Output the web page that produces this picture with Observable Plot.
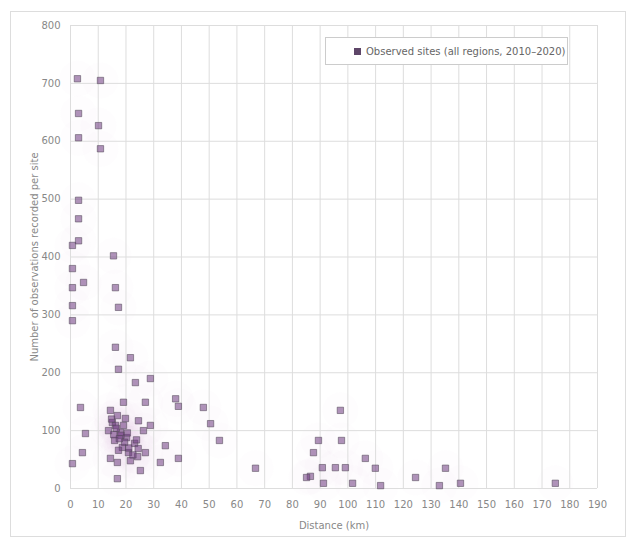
<!DOCTYPE html>
<html>
<head>
<meta charset="utf-8">
<script src="https://cdn.jsdelivr.net/npm/d3@7"></script>
<script src="https://cdn.jsdelivr.net/npm/@observablehq/plot@0.6"></script>
<style>
  html, body { margin: 0; padding: 0; background: #fff; }
  #wrap { position: relative; width: 628px; height: 539px; font-family: "DejaVu Sans", sans-serif; }
  #frame { position: absolute; left: 10px; top: 11px; width: 614px; height: 524px; border: 1px solid #ddd; pointer-events: none; }
  #legend { position: absolute; left: 325px; top: 37px; width: 241px; height: 26px; border: 1px solid #ccc; background: #fff;
            display: flex; align-items: center; font-size: 10px; color: #666; white-space: nowrap; }
  #legend .sw { width: 7px; height: 7px; background: #5e4668; margin: 0 5px 0 28px; flex: none; }
</style>
</head>
<body>
<div id="wrap"></div>
<script>
// Data (x, y pairs)
const xValues = [2.5, 10.8, 2.9, 10.1, 2.9, 10.8, 2.9, 2.9, 2.9, 0.7, 0.7, 0.7, 4.7, 0.7, 0.7,
  15.5, 16.2, 17.3, 16.2, 21.6, 17.3, 23.4, 28.8, 19.1, 27.0, 37.9, 38.9, 47.9, 50.5,
  3.6, 5.4, 4.3, 0.7,
  14.4, 16.9, 15.1, 19.1, 13.7, 18.0, 20.2, 15.9, 23.1, 18.7, 24.4, 20.9, 27.0, 24.2, 21.6, 25.2,
  16.9, 16.9, 14.4, 24.5, 28.8, 26.3, 34.2, 32.4, 38.9, 53.7, 16.2, 19.8, 17.3,
  14.8, 16.5, 18.2, 19.5, 21.0, 22.5, 17.6, 20.5, 15.6, 23.8,
  66.7, 86.5, 89.4, 97.7, 87.6, 90.8, 95.5, 99.1, 106.3, 109.9, 85.1, 91.2, 101.7, 111.8,
  124.4, 135.2, 133.0, 140.6, 174.8, 97.3];
const yValues = [708, 705, 648, 627, 606, 587, 498, 466, 428, 420, 380, 347, 356, 316, 290,
  402, 347, 313, 244, 226, 206, 183, 190, 149, 149, 155, 142, 140, 112,
  140, 95, 62, 43,
  135, 126, 114, 109, 100, 97, 88, 83, 78, 71, 69, 62, 62, 55, 48, 31,
  45, 17, 52, 117, 109, 100, 74, 45, 52, 83, 109, 121, 66,
  120, 104, 92, 80, 70, 58, 86, 96, 93, 84,
  35, 21, 83, 83, 62, 36, 36, 36, 52, 35, 19, 9, 9, 5,
  19, 35, 5, 9, 9, 135];
const xTicks = d3.range(0, 191, 10);
const yTicks = d3.range(0, 801, 100);
const xLabel = "Distance (km)";
const yLabel = "Number of observations recorded per site";
const legendLabel = "Observed sites (all regions, 2010–2020)";

const points = xValues.map((x, i) => ({x, y: yValues[i]}));

const chart = Plot.plot({
  width: 628,
  height: 539,
  marginTop: 25,
  marginBottom: 51,
  marginLeft: 70,
  marginRight: 31,
  style: {fontFamily: "DejaVu Sans, sans-serif", fontSize: "10px", color: "#888", background: "transparent"},
  x: {domain: [0, 190], ticks: xTicks, label: xLabel, labelAnchor: "center", labelArrow: "none", labelOffset: 40, tickSize: 0, tickPadding: 12},
  y: {domain: [0, 800], ticks: yTicks, label: yLabel, labelAnchor: "center", labelArrow: "none", labelOffset: 40, tickSize: 0, tickPadding: 10},
  marks: [
    Plot.dot(points, {x: "x", y: "y", r: 18, fill: "#e6a8e6", fillOpacity: 0.025, stroke: "none"}),
    Plot.gridX(xTicks, {stroke: "#ddd", strokeOpacity: 1}),
    Plot.gridY(yTicks, {stroke: "#ddd", strokeOpacity: 1}),
    Plot.dot(points, {x: "x", y: "y", symbol: "square", r: 3.6, fill: "#6e3a80", fillOpacity: 0.55, stroke: "#54485a", strokeOpacity: 0.55, strokeWidth: 1})
  ]
});

const wrap = document.getElementById("wrap");
wrap.appendChild(chart);
const frame = document.createElement("div"); frame.id = "frame"; wrap.appendChild(frame);
const legend = document.createElement("div"); legend.id = "legend";
legend.innerHTML = `<span class="sw"></span><span>${legendLabel}</span>`;
wrap.appendChild(legend);
</script>
</body>
</html>
